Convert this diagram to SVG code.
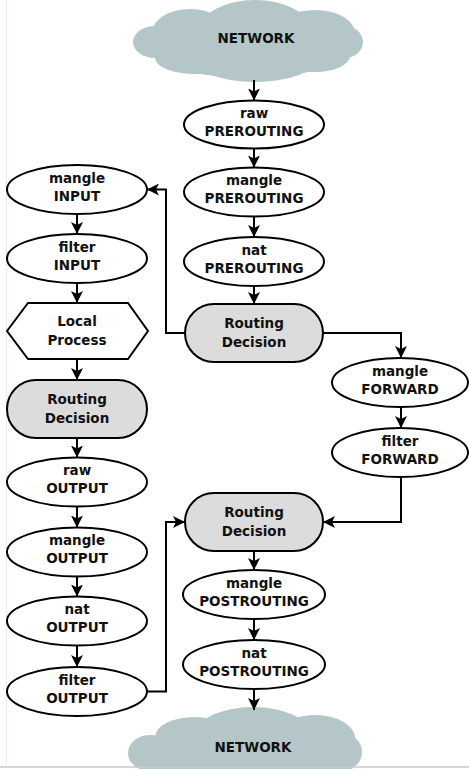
<svg xmlns="http://www.w3.org/2000/svg" width="469" height="769" viewBox="0 0 469 769">
<defs>
<marker id="arr" markerWidth="14" markerHeight="12" refX="12" refY="6" orient="auto" markerUnits="userSpaceOnUse">
<path d="M0,0 L12,6 L0,12 L3,6 z" fill="#000"/>
</marker>
<style>
.n{fill:#fff;stroke:#000;stroke-width:2}
.rd{fill:#dcdcdc;stroke:#000;stroke-width:2}
.cl{fill:#b4c6c8}
.t{font-family:"DejaVu Sans","Liberation Sans",sans-serif;font-weight:bold;font-size:13.5px;text-anchor:middle;fill:#111}
.c{fill:none;stroke:#000;stroke-width:2;marker-end:url(#arr)}
</style>
</defs>
<rect width="469" height="769" fill="#fff"/>
<line x1="6.5" y1="0" x2="6.5" y2="766" stroke="#e6edf2" stroke-width="1"/>

<g id="network-top">
<g class="cl">
<ellipse cx="250" cy="45" rx="100" ry="33"/>
<ellipse cx="255" cy="30" rx="55" ry="30"/>
<ellipse cx="190" cy="33" rx="38" ry="24"/>
<ellipse cx="315" cy="33" rx="40" ry="23"/>
<ellipse cx="155" cy="42" rx="22" ry="16"/>
<ellipse cx="345" cy="42" rx="18" ry="16"/>
<ellipse cx="255" cy="60" rx="60" ry="22"/>
<ellipse cx="195" cy="58" rx="40" ry="16"/>
<ellipse cx="315" cy="56" rx="35" ry="16"/>
</g>
<text class="t" x="256" y="43">NETWORK</text>
</g>

<g id="network-bottom">
<g class="cl">
<ellipse cx="253" cy="732" rx="55" ry="25"/>
<ellipse cx="195" cy="737" rx="40" ry="20"/>
<ellipse cx="315" cy="738" rx="40" ry="23"/>
<ellipse cx="150" cy="753" rx="22" ry="18"/>
<ellipse cx="344" cy="752" rx="18" ry="18"/>
<ellipse cx="250" cy="762" rx="105" ry="30"/>
</g>
<text class="t" x="253" y="752">NETWORK</text>
</g>
<line x1="0" y1="767" x2="469" y2="767" stroke="#c8c8c8" stroke-width="1.5"/>

<g id="raw-prerouting"><ellipse class="n" cx="254" cy="124.5" rx="70" ry="24"/><text class="t" x="254" y="117.5">raw</text><text class="t" x="254" y="135.5">PREROUTING</text></g>
<g id="mangle-prerouting"><ellipse class="n" cx="254" cy="192" rx="70" ry="24.5"/><text class="t" x="254" y="185">mangle</text><text class="t" x="254" y="203">PREROUTING</text></g>
<g id="nat-prerouting"><ellipse class="n" cx="254" cy="261.5" rx="70" ry="24.5"/><text class="t" x="254" y="254.5">nat</text><text class="t" x="254" y="272.5">PREROUTING</text></g>
<g id="routing-1"><rect class="rd" x="185" y="304" width="138" height="58" rx="29"/><text class="t" x="254" y="328">Routing</text><text class="t" x="254" y="347">Decision</text></g>

<g id="mangle-input"><ellipse class="n" cx="77" cy="189.5" rx="70" ry="24.5"/><text class="t" x="77" y="182.5">mangle</text><text class="t" x="77" y="200.5">INPUT</text></g>
<g id="filter-input"><ellipse class="n" cx="77" cy="258.5" rx="70" ry="24.5"/><text class="t" x="77" y="251.5">filter</text><text class="t" x="77" y="269.5">INPUT</text></g>
<g id="local-process"><polygon class="n" points="7,331 28,303 128,303 148,331 128,359 28,359"/><text class="t" x="77" y="326">Local</text><text class="t" x="77" y="345">Process</text></g>
<g id="routing-2"><rect class="rd" x="7" y="380" width="140" height="58" rx="29"/><text class="t" x="77" y="404">Routing</text><text class="t" x="77" y="423">Decision</text></g>
<g id="raw-output"><ellipse class="n" cx="77" cy="482" rx="70" ry="24.5"/><text class="t" x="77" y="475">raw</text><text class="t" x="77" y="493">OUTPUT</text></g>
<g id="mangle-output"><ellipse class="n" cx="77" cy="552" rx="70" ry="24.5"/><text class="t" x="77" y="545">mangle</text><text class="t" x="77" y="563">OUTPUT</text></g>
<g id="nat-output"><ellipse class="n" cx="77" cy="621" rx="70" ry="24.5"/><text class="t" x="77" y="614">nat</text><text class="t" x="77" y="632">OUTPUT</text></g>
<g id="filter-output"><ellipse class="n" cx="77" cy="691.5" rx="70" ry="24.5"/><text class="t" x="77" y="684.5">filter</text><text class="t" x="77" y="702.5">OUTPUT</text></g>

<g id="mangle-forward"><ellipse class="n" cx="400" cy="382.5" rx="68" ry="24.5"/><text class="t" x="400" y="375.5">mangle</text><text class="t" x="400" y="393.5">FORWARD</text></g>
<g id="filter-forward"><ellipse class="n" cx="400" cy="452.5" rx="68" ry="24.5"/><text class="t" x="400" y="445.5">filter</text><text class="t" x="400" y="463.5">FORWARD</text></g>

<g id="routing-3"><rect class="rd" x="185" y="493" width="138" height="58" rx="29"/><text class="t" x="254" y="517">Routing</text><text class="t" x="254" y="536">Decision</text></g>
<g id="mangle-postrouting"><ellipse class="n" cx="254" cy="594.5" rx="71" ry="24.5"/><text class="t" x="254" y="587.5">mangle</text><text class="t" x="254" y="605.5">POSTROUTING</text></g>
<g id="nat-postrouting"><ellipse class="n" cx="254" cy="664.5" rx="71" ry="24.5"/><text class="t" x="254" y="657.5">nat</text><text class="t" x="254" y="675.5">POSTROUTING</text></g>

<g id="connectors">
<path class="c" d="M254,80 V100.5"/>
<path class="c" d="M254,148.5 V167.5"/>
<path class="c" d="M254,216.5 V237"/>
<path class="c" d="M254,286 V304"/>
<path class="c" d="M185,333 H166 V189.5 H147"/>
<path class="c" d="M323,333 H401 V358"/>
<path class="c" d="M401,407 V428"/>
<path class="c" d="M401,477 V522 H323"/>
<path class="c" d="M77,214 V234"/>
<path class="c" d="M77,283 V303"/>
<path class="c" d="M77,359 V380"/>
<path class="c" d="M77,438 V457.5"/>
<path class="c" d="M77,506.5 V527.5"/>
<path class="c" d="M77,576.5 V596.5"/>
<path class="c" d="M77,645.5 V667"/>
<path class="c" d="M147,691.5 H166 V522 H185"/>
<path class="c" d="M254,551 V570"/>
<path class="c" d="M254,619 V640"/>
<path class="c" d="M254,689 V710"/>
</g>
</svg>
